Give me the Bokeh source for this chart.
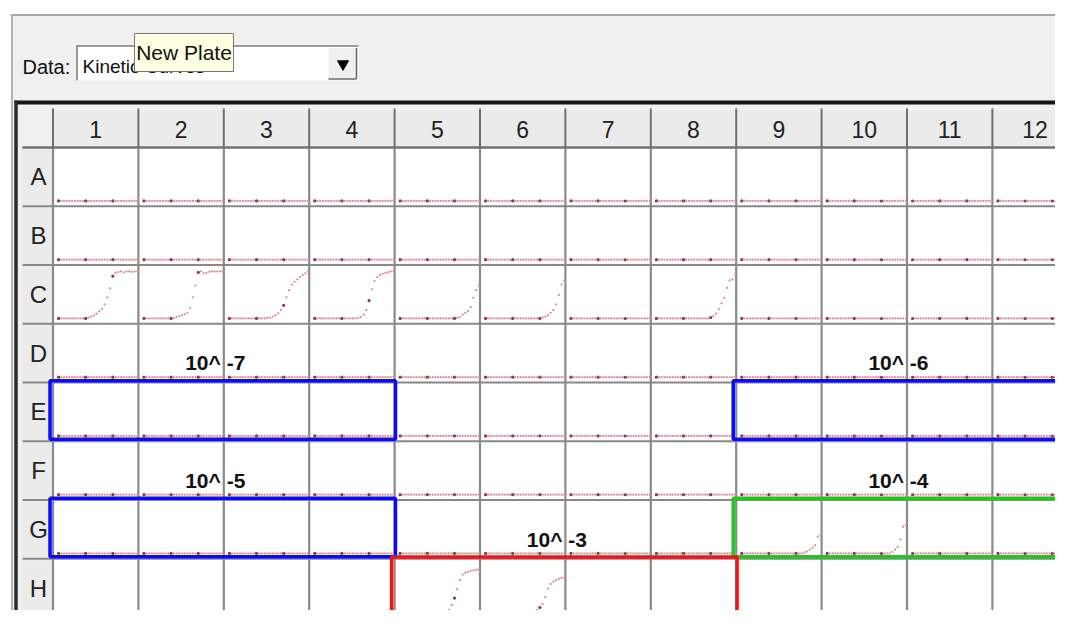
from bokeh.plotting import figure
from bokeh.models import Range1d
from bokeh.embed import file_html
from bokeh.resources import INLINE
from bokeh.core.properties import value

# ---------------- data ----------------
row_labels = ["A", "B", "C", "D", "E", "F", "G", "H"]
col_labels = ["1", "2", "3", "4", "5", "6", "7", "8", "9", "10", "11", "12"]
read_index = list(range(30))  # kinetic read number

flat = [0, 0, 0, 0, 0, 0, 0, 0, 0, 0, 0, 0, 0, 0, 0,
        0, 0, 0, 0, 0, 0, 0, 0, 0, 0, 0, 0, 0, 0, 0]
c1 = [0, 0, 0, 0, 0, 0, 0, 0, 0, 0, 0, 0.02, 0.04, 0.06, 0.1,
      0.15, 0.2, 0.3, 0.45, 0.64, 0.9, 0.97, 0.99, 1.0, 0.98, 1.0, 1.0, 0.99, 1.0, 1.0]
c2 = [0, 0, 0, 0, 0, 0, 0, 0, 0, 0, 0, 0.01, 0.03, 0.05, 0.07,
      0.09, 0.12, 0.22, 0.45, 0.7, 0.98, 1.0, 0.96, 0.97, 0.99, 1.0, 1.0, 1.0, 1.0, 1.0]
c3 = [0, 0, 0, 0, 0, 0, 0, 0, 0, 0, 0, 0, 0, 0, 0.01,
      0.02, 0.04, 0.07, 0.11, 0.18, 0.28, 0.45, 0.6, 0.72, 0.78, 0.83, 0.88, 0.92, 0.96, 1.0]
c4 = [0, 0, 0, 0, 0, 0, 0, 0, 0, 0, 0, 0, 0, 0, 0,
      0, 0.01, 0.03, 0.08, 0.18, 0.38, 0.62, 0.8, 0.88, 0.92, 0.95, 0.97, 0.98, 1.0, 1.0]
c5 = [0, 0, 0, 0, 0, 0, 0, 0, 0, 0, 0, 0, 0, 0, 0,
      0, 0, 0, 0, 0, 0, 0.01, 0.03, 0.08, 0.12, 0.16, 0.24, 0.44, 0.6, 0.7]
c6 = [0, 0, 0, 0, 0, 0, 0, 0, 0, 0, 0, 0, 0, 0, 0,
      0, 0, 0, 0, 0, 0, 0.02, 0.04, 0.07, 0.12, 0.18, 0.3, 0.5, 0.72, 0.8]
c8 = [0, 0, 0, 0, 0, 0, 0, 0, 0, 0, 0, 0, 0, 0, 0,
      0, 0, 0, 0, 0, 0.02, 0.05, 0.1, 0.2, 0.32, 0.44, 0.65, 0.81, 0.83, 0.94]
g9 = [0, 0, 0, 0, 0, 0, 0, 0, 0, 0, 0, 0, 0, 0, 0,
      0, 0, 0, 0, 0, 0, 0, 0, 0.02, 0.04, 0.08, 0.12, 0.17, 0.36, 0.38]
g10 = [0, 0, 0, 0, 0, 0, 0, 0, 0, 0, 0, 0, 0, 0, 0,
       0, 0, 0, 0, 0, 0, 0, 0, 0, 0.03, 0.08, 0.14, 0.3, 0.57, 0.6]
h5 = [0, 0, 0, 0, 0, 0, 0, 0, 0, 0, 0, 0, 0, 0, 0,
      0, 0, 0, 0.05, 0.15, 0.3, 0.49, 0.68, 0.8, 0.84, 0.86, 0.88, 0.89, 0.9, 0.91]
h6 = [0, 0, 0, 0, 0, 0, 0, 0, 0, 0, 0, 0, 0, 0, 0,
      0, 0, 0, 0, 0.05, 0.1, 0.17, 0.32, 0.5, 0.6, 0.65, 0.68, 0.71, 0.73, 0.74]
curve_by_well = {"C1": c1, "C2": c2, "C3": c3, "C4": c4, "C5": c5, "C6": c6,
                 "C8": c8, "G9": g9, "G10": g10, "H5": h5, "H6": h6}

dil_labels = ["10^ -7", "10^ -6", "10^ -5", "10^ -4", "10^ -3"]
dil_rows = ["E", "E", "G", "G", "H"]
dil_first_col = [1, 9, 1, 9, 5]
dil_last_col = [4, 12, 4, 12, 8]

data_label = "Data:"
data_choice = "Kinetic Curves"
tooltip_text = "New Plate"

# ---------------- layout ----------------
W, H = 1055, 610
PX0, CW = 52.5, 85.4      # pixel x of column-1 left edge, column width
PY0, RH = 147.0, 58.75    # pixel y of row-A top edge, row height
OX, OY = 0, 0             # page offset of the figure


def X(px):
    return (px - PX0) / CW


def Y(py):
    return (py - PY0) / RH


def base_shift(fs):
    # correction so the drawn glyph baseline lands where intended
    return 0.4 * fs / RH


FONT = value("Liberation Sans")
box_colors = ["#0a0aff", "#0a0aff", "#0a0aff", "#1ec81e", "#f01414"]

p = figure(width=W, height=H, x_range=Range1d(X(OX), X(OX + W)),
           y_range=Range1d(Y(OY + H), Y(OY)), output_backend="svg",
           toolbar_location=None, min_border=0,
           x_axis_type=None, y_axis_type=None)
p.outline_line_color = None
p.background_fill_color = "white"
p.border_fill_color = "white"

# window panel
p.quad(left=X(12), right=X(1090), top=Y(15), bottom=Y(640),
       fill_color="#f0f0f0", line_color=None)
p.segment(x0=[X(10)], y0=[Y(14.5)], x1=[X(1090)], y1=[Y(14.5)],
          line_color="#a8a8a8", line_width=2)
p.segment(x0=[X(11.5)], y0=[Y(14)], x1=[X(11.5)], y1=[Y(640)],
          line_color="#b4b4b4", line_width=2)
# grid frame
p.segment(x0=[X(14)], y0=[Y(102)], x1=[X(1090)], y1=[Y(102)],
          line_color="#151515", line_width=4)
p.segment(x0=[X(15.5)], y0=[Y(100)], x1=[X(15.5)], y1=[Y(640)],
          line_color="#2c2c2c", line_width=3.5)

# header cells
ncol, nrow = len(col_labels), len(row_labels)
p.quad(left=[c + 0.02 for c in range(ncol)], right=[c + 0.99 for c in range(ncol)],
       top=Y(110), bottom=0, fill_color="#ebebeb", line_color=None)
p.quad(left=X(21), right=X(51), top=[r + 0.03 for r in range(nrow)],
       bottom=[r + 0.98 for r in range(nrow)], fill_color="#ebebeb", line_color=None)

# white wells
p.quad(left=0, right=ncol, top=0, bottom=nrow, fill_color="white", line_color=None)

# header separators
p.segment(x0=list(range(ncol + 1)), y0=Y(108), x1=list(range(ncol + 1)), y1=0,
          line_color="#6e6e6e", line_width=2)
# grid lines
p.segment(x0=list(range(ncol + 1)), y0=0, x1=list(range(ncol + 1)), y1=nrow,
          line_color="#8a8a8a", line_width=2.2)
p.segment(x0=X(22), y0=list(range(nrow + 1)), x1=ncol + 0.5, y1=list(range(nrow + 1)),
          line_color="#888888", line_width=2.2)
p.segment(x0=[X(22)], y0=[0], x1=[ncol + 0.5], y1=[0], line_color="#6e6e6e", line_width=2.2)

# header / row label texts
p.text(x=[c + 0.5 for c in range(ncol)], y=Y(138.5) - base_shift(23), text=col_labels,
       text_font=FONT, text_font_size="23px", text_color="#222222",
       text_align="center", text_baseline="alphabetic")
p.text(x=X(38), y=[r + 0.5 + 0.165 - base_shift(24) for r in range(nrow)], text=row_labels,
       text_font=FONT, text_font_size="24px", text_color="#222222",
       text_align="center", text_baseline="alphabetic")

# kinetic curves
xs, ys, mx, my = [], [], [], []
for ri, r in enumerate(row_labels):
    for ci, c in enumerate(col_labels):
        v = curve_by_well.get(r + c, flat)
        for t, val in zip(read_index, v):
            x = ci + 0.065 + t * 0.0318
            y = ri + 1 - 0.09 - val * 0.8
            xs.append(x)
            ys.append(y)
            if t % 10 == 0:
                mx.append(x)
                my.append(y)
p.scatter(x=xs, y=ys, size=2.3, fill_color="#dc8f99", line_color=None)
p.scatter(x=mx, y=my, size=3.2, fill_color="#8a3c4c", line_color=None)

# dilution boxes and labels
rows_idx = [row_labels.index(r) for r in dil_rows]
p.quad(left=[a - 1 - 0.035 for a in dil_first_col], right=[b + 0.01 for b in dil_last_col],
       top=[ri - 0.03 for ri in rows_idx], bottom=[ri + 1 - 0.035 for ri in rows_idx],
       fill_alpha=0, line_color=box_colors, line_width=3.5)
p.text(x=[(a - 1 + b) / 2 - 0.1 for a, b in zip(dil_first_col, dil_last_col)],
       y=[ri - 0.19 - base_shift(21) for ri in rows_idx], text=dil_labels,
       text_font=FONT, text_font_size="21px", text_font_style="bold",
       text_color="#111111", text_align="center", text_baseline="alphabetic")

# Data: combo box
p.text(x=[X(22)], y=[Y(74) - base_shift(20)], text=[data_label], text_font=FONT,
       text_font_size="20px", text_color="#111111", text_align="left",
       text_baseline="alphabetic")
p.quad(left=X(76), right=X(358), top=Y(45), bottom=Y(80), fill_color="white", line_color=None)
p.segment(x0=[X(76), X(76.5)], y0=[Y(45.5), Y(45)], x1=[X(358), X(76.5)], y1=[Y(45.5), Y(80)],
          line_color="#7a7a7a", line_width=1.5)
p.text(x=[X(82)], y=[Y(74) - base_shift(19)], text=[data_choice], text_font=FONT,
       text_font_size="19px", text_color="#111111", text_align="left",
       text_baseline="alphabetic")
p.quad(left=X(328), right=X(356), top=Y(47.5), bottom=Y(78.5), fill_color="#f0f0f0",
       line_color=None)
p.segment(x0=[X(328), X(356)], y0=[Y(78.5), Y(47.5)], x1=[X(356), X(356)], y1=[Y(78.5), Y(78.5)],
          line_color="#6a6a6a", line_width=1.5)
p.scatter(x=[X(342.5)], y=[Y(63.5)], marker="inverted_triangle", size=11,
          fill_color="black", line_color="black")

# tooltip
p.quad(left=X(134), right=X(233), top=Y(33), bottom=Y(71), fill_color="#ffffe1",
       line_color="#767676", line_width=1)
p.text(x=[X(183.5)], y=[Y(60.5) - base_shift(21)], text=[tooltip_text], text_font=FONT,
       text_font_size="21px", text_color="#111111", text_align="center",
       text_baseline="alphabetic")

open("out.html", "w").write(file_html(p, INLINE))
